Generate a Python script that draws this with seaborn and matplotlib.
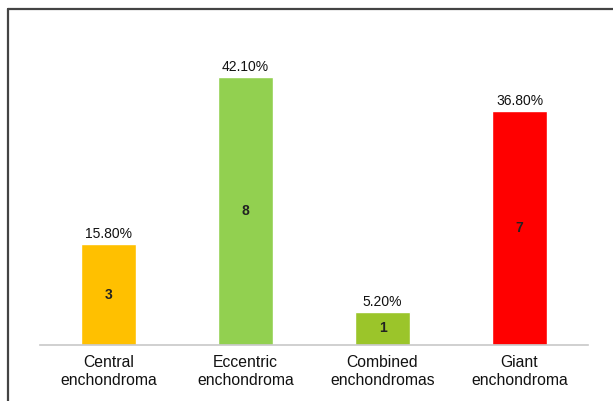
import matplotlib
matplotlib.use("Agg")
import matplotlib.pyplot as plt
import seaborn as sns
import pandas as pd
from matplotlib.lines import Line2D

categories = ["Central\nenchondroma", "Eccentric\nenchondroma",
              "Combined\nenchondromas", "Giant\nenchondroma"]
percentages = [15.8, 42.1, 5.2, 36.8]
counts = [3, 8, 1, 7]
colors = ["#FFC000", "#92D050", "#9BC52A", "#FF0000"]

df = pd.DataFrame({"category": categories, "pct": percentages, "n": counts})

sns.set_theme(style="white")
plt.rcParams["font.family"] = ["Liberation Sans", "DejaVu Sans"]

fig = plt.figure(figsize=(6.13, 4.01), dpi=100)
ax = fig.add_axes([40 / 613, 1 - 345 / 401, 548 / 613, 319 / 401])

sns.barplot(data=df, x="category", y="pct", hue="category",
            palette=colors, width=0.4, legend=False, ax=ax,
            saturation=1)

ax.set_xlim(-0.5, 3.5)
ax.set_ylim(0, 319 / 6.37)

for i, (p, n) in enumerate(zip(percentages, counts)):
    ax.text(i, p + 0.45, f"{p:.2f}%", ha="center", va="bottom",
            fontsize=10, color="#111111")
    ax.text(i, p / 2, str(n), ha="center", va="center",
            fontsize=10, fontweight="bold", color="#222222")

for s in ["top", "right", "left"]:
    ax.spines[s].set_visible(False)
ax.spines["bottom"].set_color("#C8C8C8")
ax.spines["bottom"].set_linewidth(1.2)
ax.set_yticks([])
ax.set_xlabel("")
ax.set_ylabel("")
ax.tick_params(axis="x", length=0, labelsize=11.3, labelcolor="#111111", pad=7.5)
for lbl in ax.get_xticklabels():
    lbl.set_linespacing(1.25)

# outer frame (top and left edges)
fig.add_artist(Line2D([8 / 613, 1.0], [1 - 9 / 401, 1 - 9 / 401],
                      transform=fig.transFigure, color="#444444", linewidth=1.6))
fig.add_artist(Line2D([8 / 613, 8 / 613], [0.0, 1 - 9 / 401],
                      transform=fig.transFigure, color="#444444", linewidth=1.6))

fig.savefig("out.png", dpi=100)
